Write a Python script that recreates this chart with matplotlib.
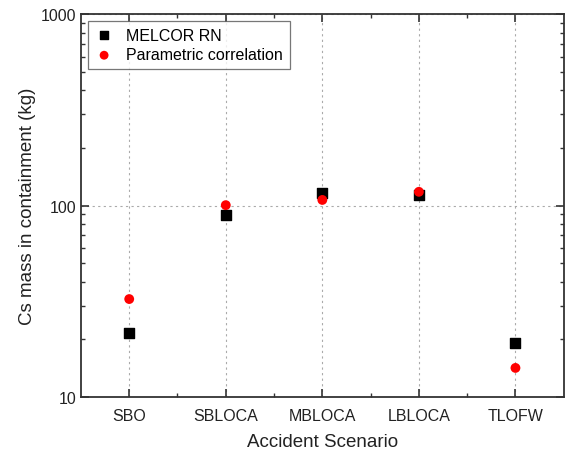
import numpy as np
import matplotlib.pyplot as plt
from matplotlib.ticker import LogLocator, NullFormatter, FixedLocator

plt.rcParams['font.family'] = ['Liberation Sans', 'DejaVu Sans']

# Data ------------------------------------------------------------------------
scenarios = ['SBO', 'SBLOCA', 'MBLOCA', 'LBLOCA', 'TLOFW']
melcor = [21.7, 89.5, 116.0, 114.0, 19.2]
parametric = [32.5, 100.5, 107.0, 118.0, 14.2]

# Plot ------------------------------------------------------------------------
fig = plt.figure(figsize=(5.66, 4.56), dpi=100)
ax = fig.add_axes([0.143, 0.127, 0.853, 0.840])
x = np.arange(1, len(scenarios)+1)
ax.scatter(x, melcor, marker='s', s=45, color='black', label='MELCOR RN', zorder=3)
ax.scatter(x, parametric, marker='o', s=50, color='red', edgecolors='none',
           label='Parametric correlation', zorder=4)

ax.set_yscale('log')
ax.set_ylim(10, 1000)
ax.set_xlim(0.5, 5.5)
ax.set_xticks(x)
ax.set_xticklabels(scenarios)
ax.xaxis.set_minor_locator(FixedLocator(x[:-1]+0.5))
ax.set_yticks([10, 100, 1000])
ax.set_yticklabels(['10', '100', '1000'])
ax.yaxis.set_minor_locator(LogLocator(base=10, subs=np.arange(2, 10)))
ax.yaxis.set_minor_formatter(NullFormatter())

ax.tick_params(which='both', direction='in', top=True, right=True,
               labelsize=11.5, color='#333333', labelcolor='#222222')
ax.tick_params(which='major', length=6, width=1.2)
ax.tick_params(which='minor', length=3, width=1)
ax.tick_params(axis='x', pad=8)
for s in ax.spines.values():
    s.set_linewidth(1.3)
    s.set_color('#333333')

ax.grid(True, which='major', linestyle=(0, (2, 3)), color='#aaaaaa', linewidth=0.8)
ax.set_axisbelow(True)

ax.set_xlabel('Accident Scenario', fontsize=13.5, labelpad=7, color='#222222')
ax.set_ylabel('Cs mass in containment (kg)', fontsize=13.5, labelpad=3, color='#222222')

leg = ax.legend(loc='upper left', fontsize=11.5, frameon=True, fancybox=False,
                edgecolor='#555555', handletextpad=0.8, borderaxespad=0.45,
                labelspacing=0.3, handlelength=1.2, markerscale=0.9)
leg.get_frame().set_linewidth(0.9)

plt.savefig('out.png', dpi=100)
plt.close('all')
